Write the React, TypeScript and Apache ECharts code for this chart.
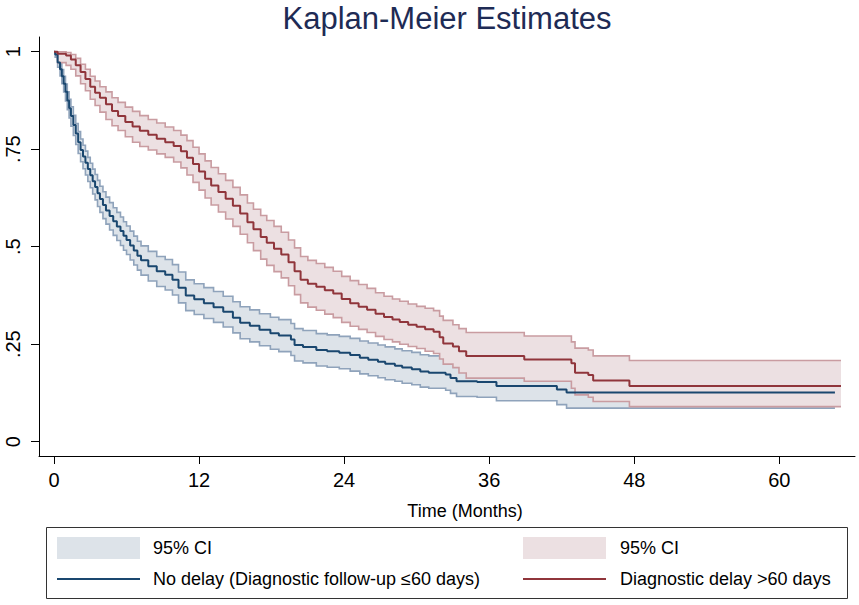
import React, { useEffect, useRef } from "react";
import * as echarts from "echarts";

// ---- Data ----
const blueTime = [0, 0.1, 0.3, 0.5, 0.65, 0.8, 0.95, 1.1, 1.25, 1.4, 1.6, 1.8, 2.0, 2.2, 2.4, 2.6, 2.8, 3.0, 3.2, 3.4, 3.6, 3.8, 4.05, 4.3, 4.6, 4.9, 5.2, 5.5, 5.75, 6.0, 6.3, 6.6, 6.9, 7.2, 7.8, 8.5, 9.2, 9.8, 10.3, 10.9, 11.6, 12.4, 13.2, 14.0, 14.8, 15.4, 16.2, 17.0, 17.9, 18.6, 19.6, 19.9, 20.6, 21.7, 22.6, 23.6, 24.5, 25.3, 26.0, 26.8, 27.4, 28.2, 28.8, 29.6, 30.3, 31.0, 32.4, 32.8, 33.3, 35.0, 36.6, 41.6, 42.4, 64.6];
const blueSurv = [1, 0.993, 0.972, 0.955, 0.937, 0.918, 0.897, 0.875, 0.855, 0.835, 0.812, 0.79, 0.768, 0.748, 0.731, 0.715, 0.699, 0.683, 0.668, 0.653, 0.637, 0.622, 0.607, 0.593, 0.579, 0.565, 0.552, 0.54, 0.528, 0.517, 0.503, 0.49, 0.477, 0.465, 0.45, 0.437, 0.428, 0.415, 0.395, 0.375, 0.365, 0.355, 0.345, 0.333, 0.318, 0.305, 0.297, 0.287, 0.278, 0.272, 0.262, 0.248, 0.243, 0.235, 0.232, 0.228, 0.222, 0.215, 0.21, 0.205, 0.2, 0.195, 0.19, 0.186, 0.18, 0.177, 0.172, 0.163, 0.155, 0.153, 0.143, 0.134, 0.126, 0.126];
const blueLower = [1, 0.986, 0.96, 0.938, 0.918, 0.897, 0.874, 0.851, 0.83, 0.809, 0.785, 0.762, 0.739, 0.718, 0.7, 0.684, 0.667, 0.651, 0.635, 0.62, 0.603, 0.588, 0.572, 0.558, 0.543, 0.529, 0.516, 0.503, 0.491, 0.48, 0.466, 0.453, 0.44, 0.427, 0.412, 0.398, 0.389, 0.376, 0.356, 0.336, 0.326, 0.316, 0.306, 0.294, 0.279, 0.264, 0.256, 0.246, 0.237, 0.231, 0.221, 0.207, 0.202, 0.194, 0.191, 0.187, 0.181, 0.174, 0.169, 0.164, 0.159, 0.155, 0.15, 0.146, 0.14, 0.137, 0.132, 0.124, 0.116, 0.114, 0.105, 0.095, 0.086, 0.086];
const blueUpper = [1, 0.998, 0.982, 0.97, 0.954, 0.937, 0.917, 0.897, 0.878, 0.859, 0.837, 0.816, 0.795, 0.776, 0.76, 0.745, 0.729, 0.714, 0.699, 0.685, 0.67, 0.655, 0.641, 0.627, 0.613, 0.6, 0.588, 0.576, 0.564, 0.553, 0.54, 0.527, 0.514, 0.502, 0.488, 0.475, 0.467, 0.454, 0.435, 0.415, 0.405, 0.395, 0.385, 0.373, 0.359, 0.346, 0.338, 0.328, 0.319, 0.313, 0.303, 0.29, 0.285, 0.277, 0.274, 0.27, 0.265, 0.258, 0.253, 0.248, 0.243, 0.238, 0.233, 0.229, 0.223, 0.22, 0.215, 0.206, 0.198, 0.196, 0.185, 0.176, 0.168, 0.168];

const redTime = [0, 0.3, 1.0, 1.4, 1.8, 2.2, 2.6, 3.0, 3.4, 3.8, 4.3, 4.8, 5.3, 5.9, 6.5, 7.1, 7.8, 8.5, 9.2, 9.9, 10.5, 11.0, 11.5, 12.0, 12.5, 13.0, 13.6, 14.2, 14.8, 15.4, 16.0, 16.5, 17.1, 17.6, 18.2, 18.8, 19.4, 19.9, 20.4, 21.0, 21.7, 22.4, 23.1, 23.8, 24.5, 25.2, 25.9, 26.6, 27.3, 28.0, 28.6, 29.3, 30.0, 30.7, 31.4, 31.9, 32.2, 33.0, 33.5, 34.1, 38.9, 42.8, 43.1, 44.2, 44.6, 47.6, 65.1];
const redSurv = [1, 0.995, 0.99, 0.98, 0.965, 0.948, 0.93, 0.91, 0.895, 0.882, 0.865, 0.848, 0.835, 0.82, 0.808, 0.797, 0.787, 0.777, 0.768, 0.758, 0.745, 0.728, 0.712, 0.693, 0.674, 0.657, 0.64, 0.623, 0.605, 0.585, 0.563, 0.545, 0.525, 0.51, 0.495, 0.48, 0.46, 0.437, 0.415, 0.405, 0.397, 0.388, 0.38, 0.366, 0.355, 0.346, 0.338, 0.328, 0.32, 0.313, 0.307, 0.3, 0.295, 0.288, 0.282, 0.268, 0.252, 0.244, 0.232, 0.22, 0.211, 0.201, 0.177, 0.171, 0.157, 0.143, 0.143];
const redLower = [1, 0.972, 0.965, 0.955, 0.938, 0.918, 0.9, 0.878, 0.862, 0.845, 0.826, 0.81, 0.798, 0.782, 0.768, 0.757, 0.748, 0.738, 0.729, 0.717, 0.702, 0.684, 0.665, 0.645, 0.625, 0.607, 0.589, 0.571, 0.552, 0.532, 0.51, 0.49, 0.468, 0.452, 0.436, 0.42, 0.4, 0.377, 0.356, 0.345, 0.337, 0.327, 0.318, 0.306, 0.296, 0.288, 0.28, 0.27, 0.262, 0.256, 0.25, 0.244, 0.239, 0.232, 0.226, 0.212, 0.199, 0.19, 0.176, 0.163, 0.155, 0.137, 0.12, 0.114, 0.103, 0.09, 0.09];
const redUpper = [1, 1, 0.998, 0.993, 0.983, 0.968, 0.955, 0.937, 0.925, 0.91, 0.897, 0.882, 0.87, 0.858, 0.847, 0.836, 0.826, 0.817, 0.807, 0.798, 0.786, 0.772, 0.755, 0.738, 0.72, 0.703, 0.687, 0.67, 0.652, 0.633, 0.612, 0.596, 0.58, 0.567, 0.552, 0.537, 0.517, 0.497, 0.475, 0.465, 0.457, 0.447, 0.437, 0.424, 0.413, 0.403, 0.393, 0.382, 0.373, 0.366, 0.36, 0.353, 0.347, 0.342, 0.336, 0.322, 0.311, 0.3, 0.29, 0.28, 0.271, 0.256, 0.24, 0.235, 0.22, 0.208, 0.208];

const xTicks = [0, 12, 24, 36, 48, 60];
const yTicks = [0, 0.25, 0.5, 0.75, 1];
const yTickLabels = ["0", ".25", ".5", ".75", "1"];

const titleText = "Kaplan-Meier Estimates";
const xAxisTitle = "Time (Months)";
const legendLabels = ["95% CI", "No delay (Diagnostic follow-up \u226460 days)", "95% CI", "Diagnostic delay >60 days"];

// ---- Styles ----
const FONT = "'Liberation Sans', Arial, Helvetica, sans-serif";
const blueLine = "#1a476f";
const blueEdge = "#8fa3bb";
const blueFill = "#dde3e9";
const redLine = "#90353b";
const redEdge = "#c99ca1";
const redFill = "#ece0e2";

const pairs = (t: number[], v: number[]) => t.map((x, i) => [x, v[i]]);

// step ("end") polyline in pixel space, built via the axis scales
function stepPoints(api: any, t: number[], v: number[]) {
  const pts: number[][] = [];
  for (let i = 0; i < t.length; i++) {
    if (i > 0) pts.push(api.coord([t[i], v[i - 1]]));
    pts.push(api.coord([t[i], v[i]]));
  }
  return pts;
}

function bandSeries(name: string, t: number[], lo: number[], hi: number[], edge: string, fill: string) {
  return {
    type: "custom",
    name,
    silent: true,
    data: t.map((x, i) => [x, lo[i], hi[i]]),
    encode: { x: 0, y: [1, 2] },
    renderItem: (params: any, api: any) => {
      if (params.dataIndex !== 0) return null;
      const up = stepPoints(api, t, hi);
      const low = stepPoints(api, t, lo);
      return {
        type: "group",
        children: [
          { type: "polygon", shape: { points: up.concat(low.slice().reverse()) }, style: { fill, stroke: "none" } },
          { type: "polyline", shape: { points: up }, style: { stroke: edge, lineWidth: 1.6, fill: "none" } },
          { type: "polyline", shape: { points: low }, style: { stroke: edge, lineWidth: 1.6, fill: "none" } },
        ],
      };
    },
  };
}

export default function App() {
  const ref = useRef<HTMLDivElement>(null);

  useEffect(() => {
    if (!ref.current) return;
    const chart = echarts.init(ref.current, undefined, { renderer: "svg" });

    const legendText = (x: number, y: number, s: string) => ({
      type: "text",
      x,
      y,
      style: { text: s, fill: "#000", font: `18px ${FONT}`, textVerticalAlign: "middle", verticalAlign: "middle" },
    });

    chart.setOption({
      animation: false,
      backgroundColor: "#fff",
      grid: { left: 39, right: 4, top: 37, bottom: 149, containLabel: false },
      xAxis: {
        type: "value",
        min: -1.24,
        max: 66.26,
        splitLine: { show: false },
        axisLine: { show: true, onZero: false, lineStyle: { color: "#000", width: 1 } },
        axisTick: { show: true, length: 8, inside: false, customValues: xTicks, lineStyle: { color: "#000" } },
        axisLabel: { customValues: xTicks, margin: 14, color: "#000", fontSize: 20, fontFamily: FONT },
      },
      yAxis: {
        type: "value",
        min: -0.0367,
        max: 1.0377,
        splitLine: { show: false },
        axisLine: { show: true, onZero: false, lineStyle: { color: "#000", width: 1 } },
        axisTick: { show: true, length: 8, inside: false, customValues: yTicks, lineStyle: { color: "#000" } },
        axisLabel: {
          customValues: yTicks,
          rotate: 90,
          margin: 16,
          color: "#000",
          fontSize: 20,
          fontFamily: FONT,
          formatter: (v: number) => {
            const i = yTicks.findIndex((y) => Math.abs(y - v) < 1e-6);
            return i >= 0 ? yTickLabels[i] : "";
          },
        },
      },
      series: [
        bandSeries("blue CI", blueTime, blueLower, blueUpper, blueEdge, blueFill),
        bandSeries("red CI", redTime, redLower, redUpper, redEdge, redFill),
        {
          type: "line",
          name: "No delay",
          step: "end",
          symbol: "none",
          data: pairs(blueTime, blueSurv),
          lineStyle: { color: blueLine, width: 2 },
          z: 5,
        },
        {
          type: "line",
          name: "Diagnostic delay",
          step: "end",
          symbol: "none",
          data: pairs(redTime, redSurv),
          lineStyle: { color: redLine, width: 2 },
          z: 5,
        },
      ],
      graphic: [
        {
          type: "text",
          x: 447,
          y: 18,
          style: { text: titleText, fill: "#1e2b55", font: `31px ${FONT}`, textAlign: "center", textVerticalAlign: "middle", align: "center", verticalAlign: "middle" },
        },
        {
          type: "text",
          x: 465,
          y: 511,
          style: { text: xAxisTitle, fill: "#000", font: `18px ${FONT}`, textAlign: "center", textVerticalAlign: "middle", align: "center", verticalAlign: "middle" },
        },
        {
          type: "rect",
          shape: { x: 46.5, y: 527.5, width: 801, height: 71 },
          style: { fill: "none", stroke: "#333", lineWidth: 1 },
        },
        { type: "rect", shape: { x: 57, y: 537, width: 83, height: 22 }, style: { fill: blueFill } },
        { type: "rect", shape: { x: 523, y: 537, width: 83, height: 22 }, style: { fill: redFill } },
        { type: "line", shape: { x1: 57, y1: 579, x2: 140, y2: 579 }, style: { stroke: blueLine, lineWidth: 2 } },
        { type: "line", shape: { x1: 523, y1: 579, x2: 606, y2: 579 }, style: { stroke: redLine, lineWidth: 2 } },
        legendText(153, 548, legendLabels[0]),
        legendText(153, 579, legendLabels[1]),
        legendText(620, 548, legendLabels[2]),
        legendText(620, 579, legendLabels[3]),
      ],
    });

    return () => chart.dispose();
  }, []);

  return <div ref={ref} style={{ width: 859, height: 605, position: "absolute", left: 0, top: 0 }} />;
}
